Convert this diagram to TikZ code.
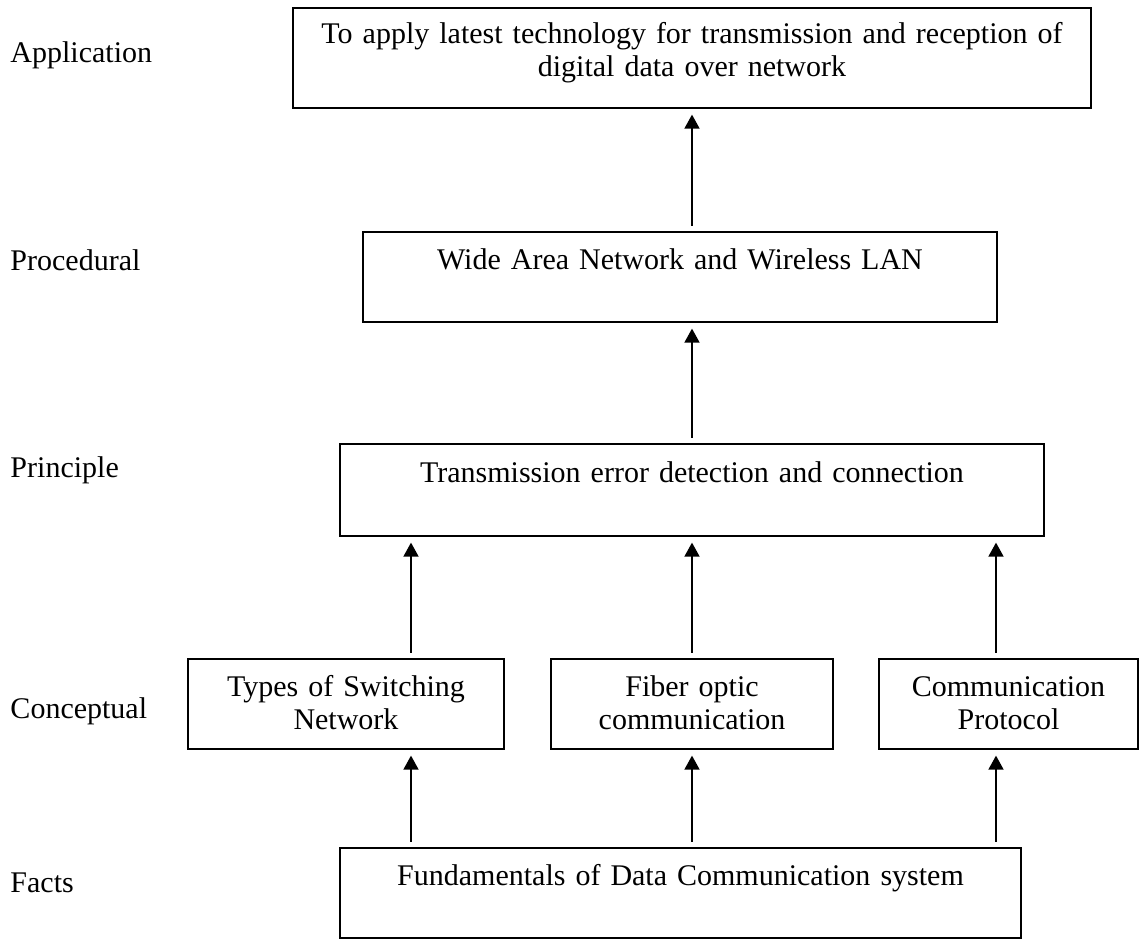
\documentclass[tikz,border=0pt]{standalone}
\usepackage{fontspec}
\setmainfont{Liberation Serif}
\usetikzlibrary{arrows.meta}

\tikzset{
  tier/.style={anchor=base west, inner sep=0pt},
  tierbox/.style={draw, line width=0.9pt, inner sep=0pt, align=center,
    text height=10pt, text depth=16.4pt, minimum height=36pt},
  uparrow/.style={-{Triangle[width=6pt,length=5.6pt]}, line width=0.7pt,
    shorten <=2pt, shorten >=2.2pt}
}

\begin{document}
\begin{tikzpicture}[x=0.4pt,y=-0.4pt,font=\fontsize{12}{13.2}\selectfont]
      \useasboundingbox (0,0) rectangle (1142,941);

      %Levels
      \node[tier] (lApp) at (10,62) {Application};
      \node[tier] (lProc) at (10,270) {Procedural};
      \node[tier] (lPrinc) at (10,477) {Principle};
      \node[tier] (lConc) at (10,718) {Conceptual};
      \node[tier] (lFacts) at (10,892) {Facts};

      %Boxes
      \node[tierbox, text width=319.2pt, minimum height=40pt, text depth=22pt] (App) at (692,58)
        {To apply latest technology for transmission and reception of\\ digital data over network};
      \node[tierbox, text width=253.6pt] (Proc) at (680,277) {Wide Area Network and Wireless LAN};
      \node[tierbox, text width=281.6pt, minimum height=36.8pt] (Princ) at (692,490)
        {Transmission error detection and connection};
      \node[tierbox, text width=126.4pt] (Conc1) at (346,704) {Types of Switching\\ Network};
      \node[tierbox, text width=112.8pt] (Conc2) at (692,704) {Fiber optic\\ communication};
      \node[tierbox, text width=103.6pt] (Conc3) at (1008.5,704) {Communication\\ Protocol};
      \node[tierbox, text width=272.4pt] (Facts) at (680.5,893) {Fundamentals of Data Communication system};

      %Arrow columns
      \coordinate (colL) at (411,0);
      \coordinate (colM) at (692,0);
      \coordinate (colR) at (996,0);

      %Arrows
      \draw[uparrow] (Proc.north -| colM) -- (App.south -| colM);
      \draw[uparrow] (Princ.north -| colM) -- (Proc.south -| colM);

      \draw[uparrow] (Conc1.north -| colL) -- (Princ.south -| colL);
      \draw[uparrow] (Conc2.north -| colM) -- (Princ.south -| colM);
      \draw[uparrow] (Conc3.north -| colR) -- (Princ.south -| colR);

      \draw[uparrow] (Facts.north -| colL) -- (Conc1.south -| colL);
      \draw[uparrow] (Facts.north -| colM) -- (Conc2.south -| colM);
      \draw[uparrow] (Facts.north -| colR) -- (Conc3.south -| colR);
\end{tikzpicture}
\end{document}
